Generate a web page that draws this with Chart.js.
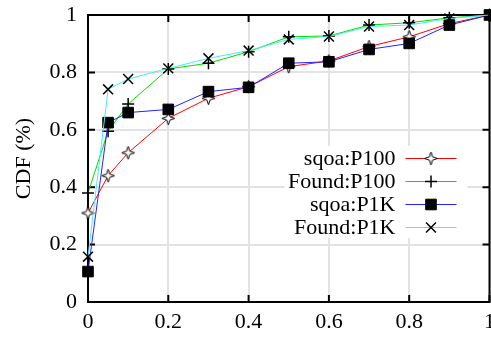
<!DOCTYPE html>
<html>
<head>
<meta charset="utf-8">
<script src="https://cdn.jsdelivr.net/npm/chart.js@4.4.0/dist/chart.umd.min.js"></script>
<style>
html, body { margin: 0; padding: 0; background: #fff; overflow: hidden; }
#wrap { width: 498px; height: 337px; }
</style>
</head>
<body>
<div id="wrap"><canvas id="cdf"></canvas></div>
<script>
const xValues = [0, 0.05, 0.1, 0.2, 0.3, 0.4, 0.5, 0.6, 0.7, 0.8, 0.9, 1];
const sqoaP100 = [0.31, 0.44, 0.52, 0.64, 0.71, 0.75, 0.82, 0.84, 0.89, 0.924, 0.97, 1];
const foundP100 = [0.38, 0.595, 0.69, 0.812, 0.832, 0.872, 0.924, 0.927, 0.965, 0.973, 0.99, 1];
const sqoaP1K = [0.106, 0.625, 0.66, 0.671, 0.733, 0.748, 0.832, 0.837, 0.88, 0.901, 0.965, 1];
const foundP1K = [0.158, 0.741, 0.777, 0.814, 0.849, 0.876, 0.915, 0.925, 0.96, 0.965, 0.988, 1];
const seriesNames = ['sqoa:P100', 'Found:P100', 'sqoa:P1K', 'Found:P1K'];
const xTicks = [0, 0.2, 0.4, 0.6, 0.8, 1];
const xTickLabels = ['0', '0.2', '0.4', '0.6', '0.8', '1'];
const yTicks = [0, 0.2, 0.4, 0.6, 0.8, 1];
const yTickLabels = ['0', '0.2', '0.4', '0.6', '0.8', '1'];
const yTitle = 'CDF (%)';

const FONT = "'Liberation Serif', 'DejaVu Serif', serif";
const FSIZE = 22;

// 4-point star marker (white filled, black outline), like gnuplot's
function makeStar() {
    const c = document.createElement('canvas');
    c.width = 15; c.height = 15;
    const g = c.getContext('2d');
    const cx = 7.5, cy = 7.5, ro = 6.5, ri = 2.3;
    g.beginPath();
    for (let i = 0; i < 8; i++) {
        const r = i % 2 === 0 ? ro : ri;
        const a = -Math.PI / 2 + i * Math.PI / 4;
        const px = cx + r * Math.cos(a), py = cy + r * Math.sin(a);
        if (i === 0) g.moveTo(px, py); else g.lineTo(px, py);
    }
    g.closePath();
    g.fillStyle = '#fff';
    g.fill();
    g.strokeStyle = '#000';
    g.lineWidth = 1;
    g.stroke();
    return c;
}
const starImg = makeStar();

function toPoints(ys) {
    return xValues.map((v, i) => ({ x: v, y: ys[i] }));
}

const styles = [
    { color: '#ff0000', pointStyle: starImg, radius: 7, bg: '#fff', bw: 1 },
    { color: '#00dd00', pointStyle: 'cross', radius: 6, bg: '#000', bw: 1.5 },
    { color: '#2222ff', pointStyle: 'rect', radius: 7.5, bg: '#000', bw: 1 },
    { color: '#44eeee', pointStyle: 'crossRot', radius: 7, bg: '#000', bw: 1.5 }
];
const allSeries = [sqoaP100, foundP100, sqoaP1K, foundP1K];

const datasets = allSeries.map((s, i) => ({
    label: seriesNames[i],
    data: toPoints(s),
    borderColor: styles[i].color,
    borderWidth: 1,
    pointStyle: styles[i].pointStyle,
    pointRadius: styles[i].radius,
    pointBackgroundColor: styles[i].bg,
    pointBorderColor: '#000',
    pointBorderWidth: styles[i].bw,
    fill: false,
    tension: 0,
    clip: false,
    order: 4 - i
}));

function drawMarker(ctx, st, x, y) {
    if (st.pointStyle instanceof HTMLCanvasElement) {
        ctx.drawImage(st.pointStyle, x - st.pointStyle.width / 2, y - st.pointStyle.height / 2);
        return;
    }
    ctx.save();
    ctx.strokeStyle = '#000';
    ctx.fillStyle = st.bg;
    ctx.lineWidth = st.bw;
    if (Chart.helpers && Chart.helpers.drawPoint) {
        Chart.helpers.drawPoint(ctx, { pointStyle: st.pointStyle, radius: st.radius, borderWidth: st.bw, rotation: 0 }, x, y);
    }
    ctx.restore();
}

const gnuFrame = {
    id: 'gnuFrame',
    beforeDatasetsDraw(chart) {
        const { ctx, chartArea: a, scales } = chart;
        const t = 7;
        ctx.save();
        ctx.strokeStyle = '#000';
        ctx.lineWidth = 2;
        ctx.strokeRect(a.left, a.top, a.right - a.left, a.bottom - a.top);
        ctx.beginPath();
        xTicks.forEach(v => {
            const px = scales.x.getPixelForValue(v);
            ctx.moveTo(px, a.bottom); ctx.lineTo(px, a.bottom - t);
            ctx.moveTo(px, a.top); ctx.lineTo(px, a.top + t);
        });
        yTicks.forEach(v => {
            const py = scales.y.getPixelForValue(v);
            ctx.moveTo(a.left, py); ctx.lineTo(a.left + t, py);
            ctx.moveTo(a.right, py); ctx.lineTo(a.right - t, py);
        });
        ctx.stroke();
        ctx.restore();
    },
    afterDatasetsDraw(chart) {
        const { ctx, chartArea: a } = chart;
        const textRight = a.right - 94;
        const lineL = a.right - 84, lineR = a.right - 33;
        const top = a.top + 143.5;
        const rowH = 23;
        ctx.save();
        ctx.fillStyle = '#fff';
        ctx.fillRect(a.right - 205, a.top + 131, 183, 92);
        ctx.font = FSIZE + 'px ' + FONT;
        ctx.textAlign = 'right';
        ctx.textBaseline = 'middle';
        seriesNames.forEach((name, i) => {
            const y = top + i * rowH;
            ctx.fillStyle = '#000';
            ctx.fillText(name, textRight, y + 1);
            ctx.strokeStyle = styles[i].color;
            ctx.lineWidth = 1;
            ctx.beginPath();
            ctx.moveTo(lineL, y); ctx.lineTo(lineR, y);
            ctx.stroke();
            drawMarker(ctx, styles[i], (lineL + lineR) / 2, y);
        });
        ctx.restore();
    }
};

new Chart(document.getElementById('cdf'), {
    type: 'line',
    data: { datasets: datasets },
    options: {
        responsive: true,
        maintainAspectRatio: false,
        animation: false,
        layout: { padding: { top: 15, right: 0, left: 0, bottom: 0 } },
        plugins: { legend: { display: false }, tooltip: { enabled: false } },
        scales: {
            x: {
                type: 'linear',
                min: 0,
                max: 1,
                afterBuildTicks: s => { s.ticks = xTicks.map(v => ({ value: v })); },
                afterFit: s => { s.height = 35; s.paddingRight = 0; s.paddingLeft = 0; },
                ticks: {
                    color: '#000',
                    font: { family: FONT, size: FSIZE },
                    padding: 7,
                    maxRotation: 0,
                    callback: (v, i) => xTickLabels[i]
                },
                grid: { color: '#e3e3e3', lineWidth: 2, drawTicks: false },
                border: { display: false }
            },
            y: {
                type: 'linear',
                min: 0,
                max: 1,
                afterBuildTicks: s => { s.ticks = yTicks.map(v => ({ value: v })); },
                afterFit: s => { s.width = 88; s.paddingTop = 0; s.paddingBottom = 0; },
                ticks: {
                    color: '#000',
                    font: { family: FONT, size: FSIZE },
                    padding: 11,
                    callback: (v, i) => yTickLabels[i]
                },
                title: {
                    display: true,
                    text: yTitle,
                    color: '#000',
                    font: { family: FONT, size: FSIZE },
                    padding: { top: 11, bottom: 0 }
                },
                grid: { color: '#e3e3e3', lineWidth: 2, drawTicks: false },
                border: { display: false }
            }
        }
    },
    plugins: [gnuFrame]
});
</script>
</body>
</html>
